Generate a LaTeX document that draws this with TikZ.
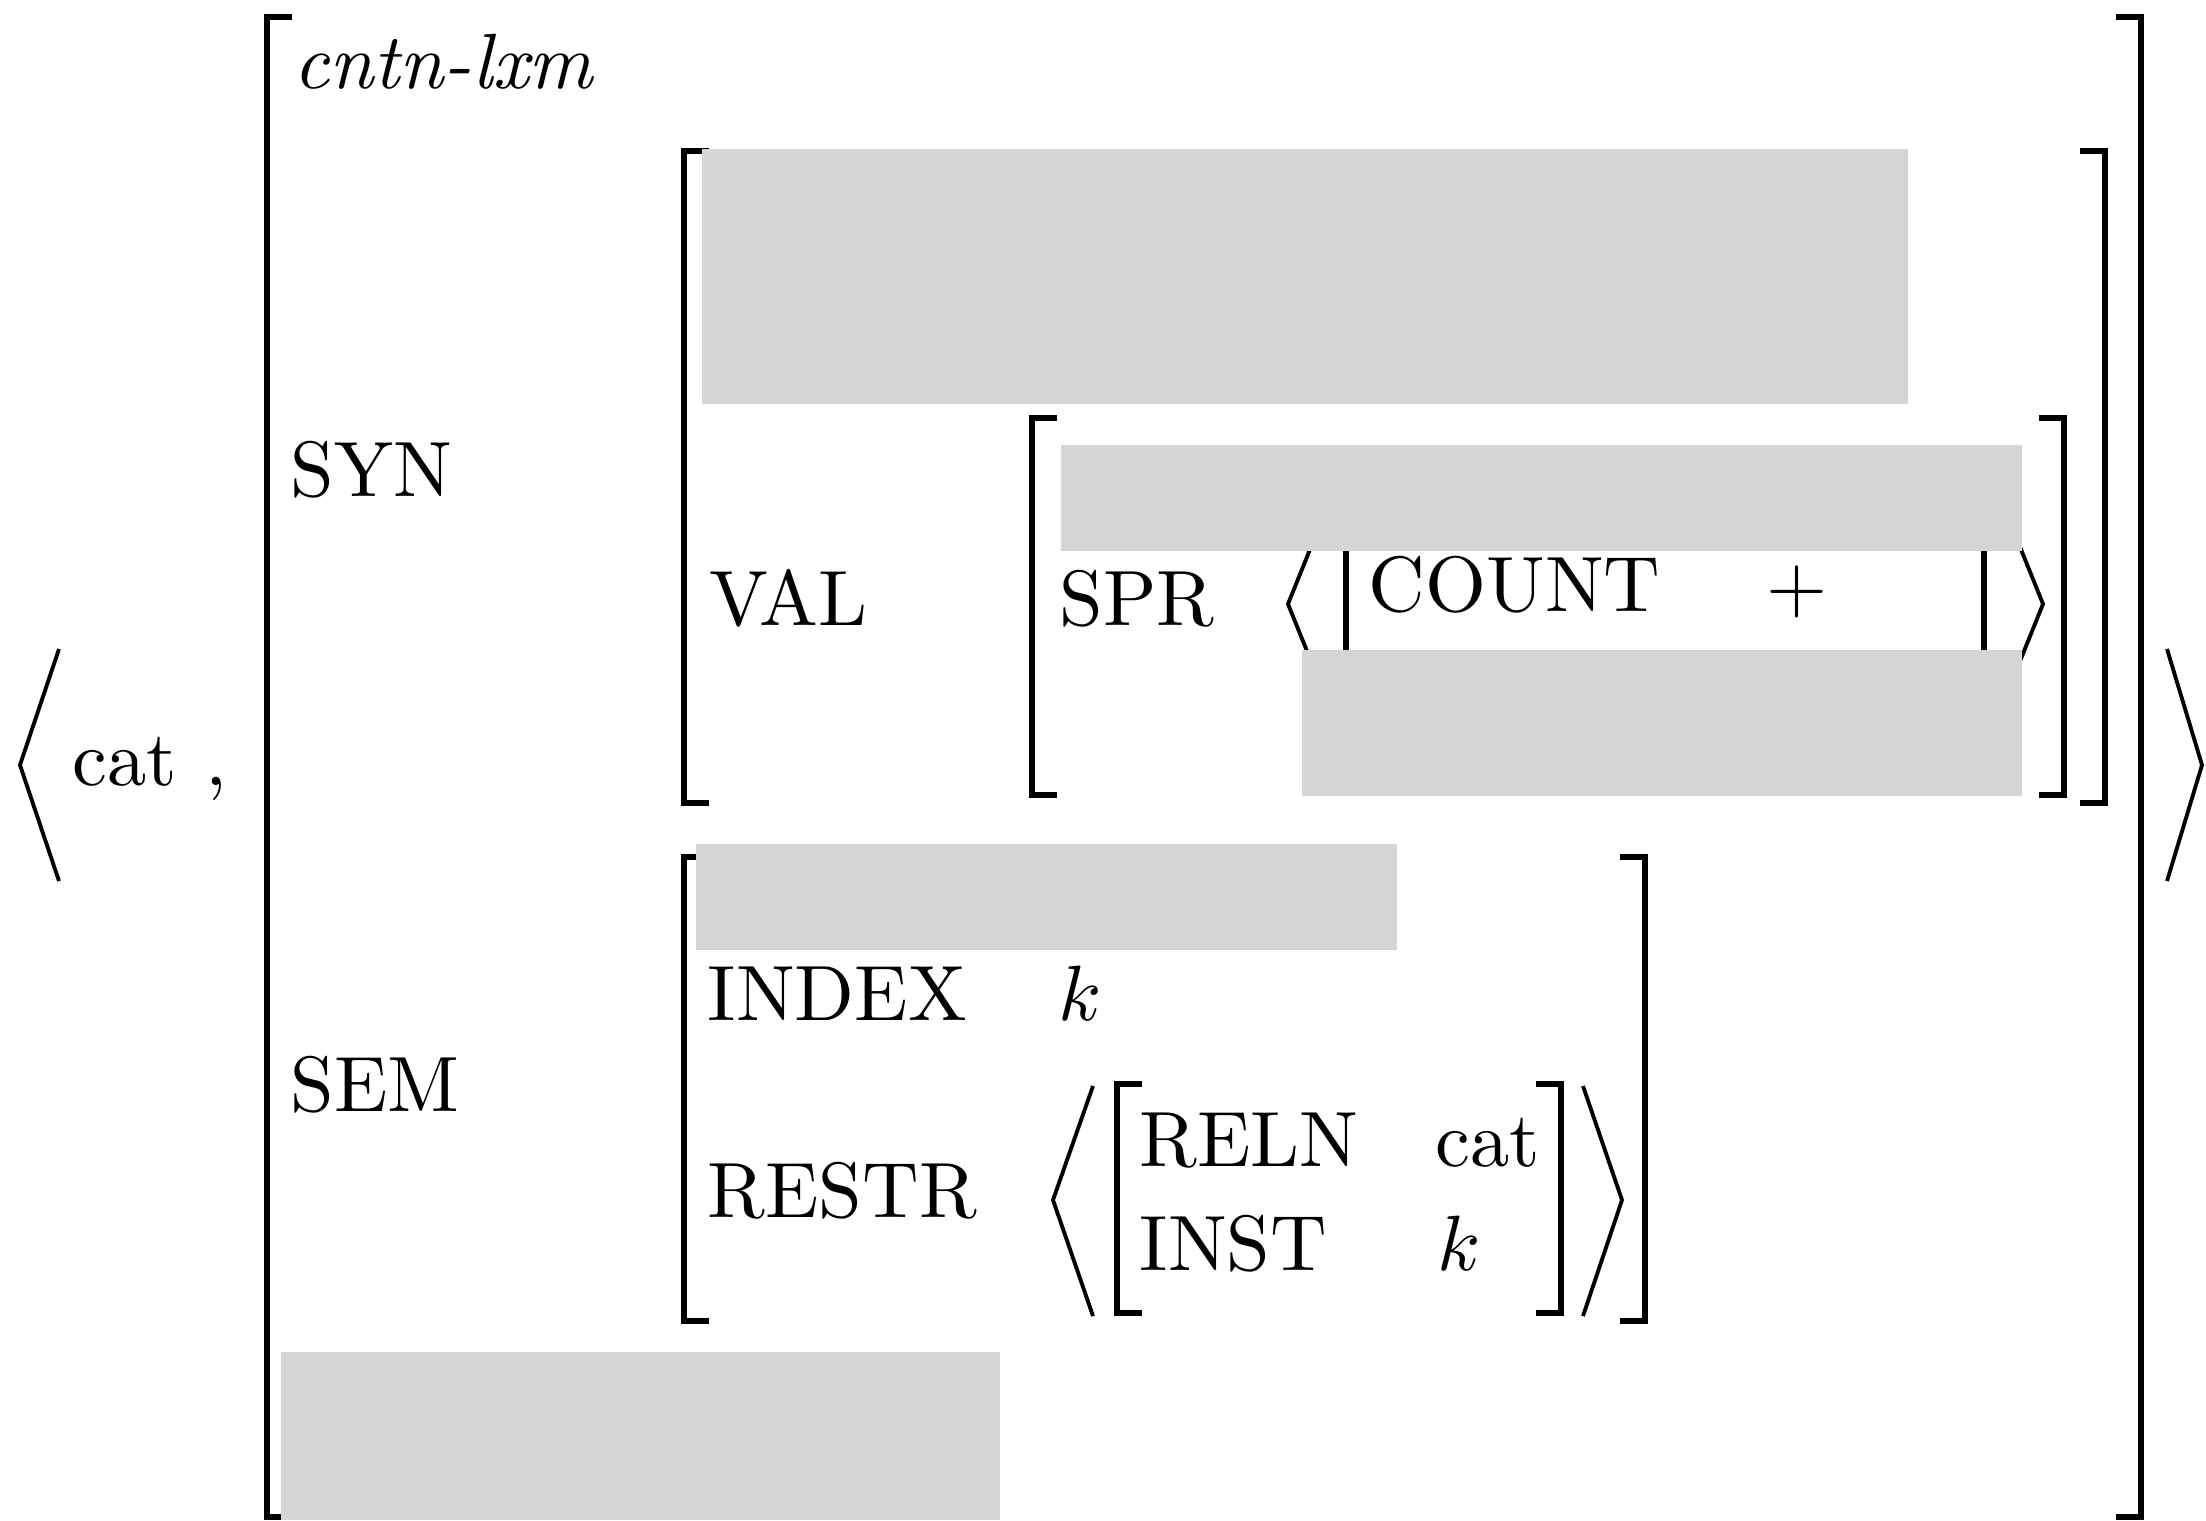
\documentclass[tikz,border=0pt]{standalone}
\usepackage{graphicx}
\definecolor{hidegray}{RGB}{213,213,213}
\newcommand{\avmtxt}[1]{\scalebox{2.23}{#1}}
\begin{document}
\begin{tikzpicture}[x=0.01cm, y=-0.01cm,
    brack/.style={line width=1.45pt},
    angl/.style={line width=1.1pt, line join=miter},
    hide/.style={fill=hidegray, draw=none},
    lbl/.style={anchor=base west, inner sep=0pt}]
    \useasboundingbox (0,0) rectangle (2206,1520);
    % outer tuple
    \draw [angl] (59,649) -- (20,765) -- (59,881);
    \node [lbl] (word) at (72,785) {\avmtxt{cat}};
    \node [lbl] (comma) at (205,785) {\avmtxt{,}};
    \draw [angl] (2167,649) -- (2202,765) -- (2167,881);
    \draw [brack] (292,17) -- (267,17) -- (267,1517) -- (292,1517);
    \draw [brack] (2116,17) -- (2141,17) -- (2141,1517) -- (2116,1517);
    \node [lbl] (type) at (293,88) {\avmtxt{\textit{cntn-lxm}}};
    % SYN
    \node [lbl] (syn) at (290,496) {\avmtxt{SYN}};
    \draw [brack] (709,151) -- (684,151) -- (684,803) -- (709,803);
    \draw [brack] (2080,151) -- (2105,151) -- (2105,803) -- (2080,803);
    \node [lbl] (val) at (709,625) {\avmtxt{VAL}};
    \draw [brack] (1057,418) -- (1032,418) -- (1032,795) -- (1057,795);
    \draw [brack] (2039,418) -- (2064,418) -- (2064,795) -- (2039,795);
    \node [lbl] (spr) at (1059,625) {\avmtxt{SPR}};
    \draw [angl] (1338,480) -- (1288,604) -- (1338,728);
    \draw [angl] (1993,480) -- (2043,604) -- (1993,728);
    \draw [brack] (1371,460) -- (1346,460) -- (1346,760) -- (1371,760);
    \draw [brack] (1959,460) -- (1984,460) -- (1984,760) -- (1959,760);
    \node [lbl] (count) at (1368,611) {\avmtxt{COUNT}};
    \node [lbl] (countval) at (1766,611) {\avmtxt{$+$}};
    % SEM
    \node [lbl] (sem) at (290,1111) {\avmtxt{SEM}};
    \draw [brack] (709,857) -- (684,857) -- (684,1321) -- (709,1321);
    \draw [brack] (1620,857) -- (1645,857) -- (1645,1321) -- (1620,1321);
    \node [lbl] (index) at (707,1020) {\avmtxt{INDEX}};
    \node [lbl] (indexval) at (1058,1020) {\avmtxt{$k$}};
    \node [lbl] (restr) at (707,1217) {\avmtxt{RESTR}};
    \draw [angl] (1093,1086) -- (1053,1200) -- (1093,1316);
    \draw [angl] (1583,1086) -- (1622,1200) -- (1583,1316);
    \draw [brack] (1142,1084) -- (1117,1084) -- (1117,1313) -- (1142,1313);
    \draw [brack] (1536,1084) -- (1561,1084) -- (1561,1313) -- (1536,1313);
    \node [lbl] (reln) at (1139,1166) {\avmtxt{RELN}};
    \node [lbl] (relnval) at (1435,1166) {\avmtxt{cat}};
    \node [lbl] (inst) at (1139,1270) {\avmtxt{INST}};
    \node [lbl] (instval) at (1437,1270) {\avmtxt{$k$}};
    % hidden parts
    \fill [hide] (702,149) rectangle (1908,404);
    \fill [hide] (1061,445) rectangle (2022,551);
    \fill [hide] (1302,650) rectangle (2022,796);
    \fill [hide] (696,844) rectangle (1397,950);
    \fill [hide] (281,1352) rectangle (1000,1520);
\end{tikzpicture}
\end{document}
